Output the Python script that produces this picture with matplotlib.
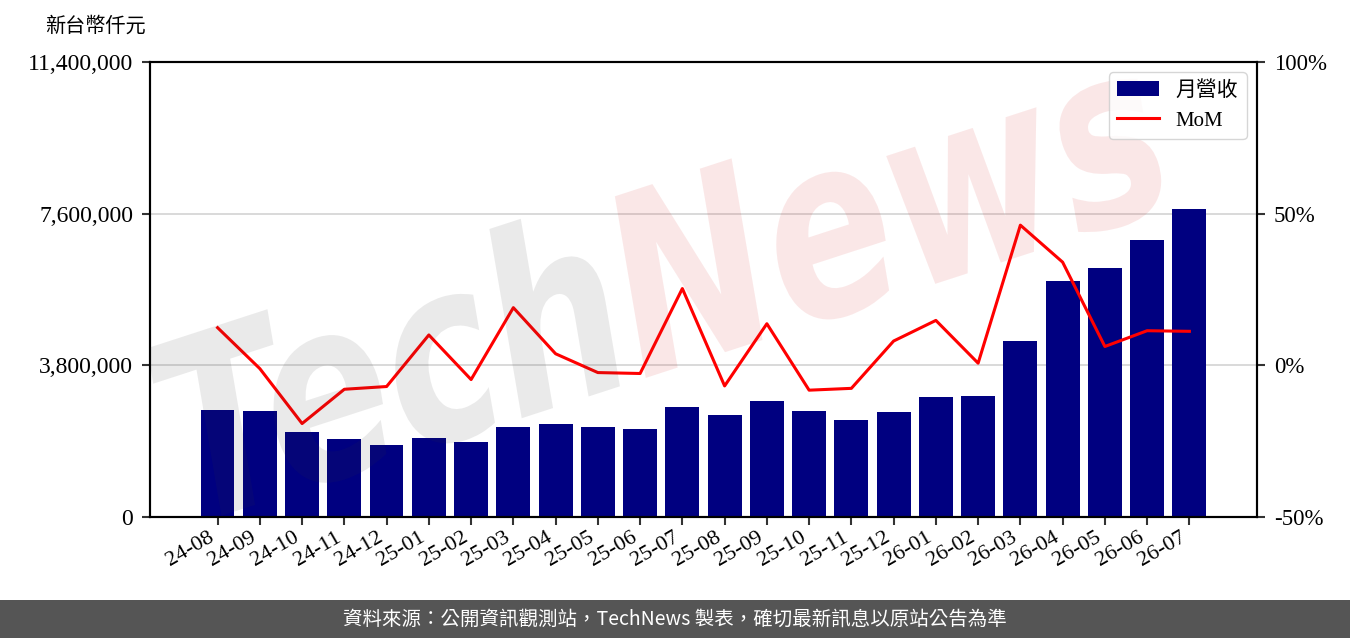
import numpy as np
import matplotlib
matplotlib.use("Agg")
import matplotlib.pyplot as plt
from matplotlib.ticker import FuncFormatter
from matplotlib.textpath import TextPath
from matplotlib.patches import PathPatch, Rectangle
from matplotlib.font_manager import FontProperties
from matplotlib.transforms import Affine2D

plt.rcParams['font.family'] = ['Liberation Serif', 'Noto Sans CJK TC']

months = ['24-08', '24-09', '24-10', '24-11', '24-12', '25-01', '25-02', '25-03',
          '25-04', '25-05', '25-06', '25-07', '25-08', '25-09', '25-10', '25-11',
          '25-12', '26-01', '26-02', '26-03', '26-04', '26-05', '26-06', '26-07']
# 月營收 (新台幣仟元)
revenue = [2681000, 2655000, 2135000, 1960000, 1812000, 1985000, 1885000, 2250000,
           2332000, 2262000, 2203000, 2758000, 2560000, 2908000, 2662000, 2440000,
           2632000, 3012000, 3032000, 4415000, 5918000, 6250000, 6945000, 7725000]
# MoM (%)
mom = [12.4, -1.1, -19.2, -7.9, -7.0, 10.0, -4.7, 19.0, 3.8, -2.4, -2.7, 25.3,
       -6.8, 13.7, -8.2, -7.6, 8.0, 14.8, 0.7, 46.2, 34.0, 6.2, 11.4, 11.2]

left_ticks = [0, 3800000, 7600000, 11400000]
right_ticks = [-50, 0, 50, 100]

fig = plt.figure(figsize=(13.5, 6.38), dpi=100)
ax = fig.add_axes([0.1111, 0.1897, 0.82, 0.7132])
ax2 = ax.twinx()

x = np.arange(len(months))
bars = ax.bar(x, revenue, width=0.8, color='#000080', zorder=2)
ax.set_xlim(-1.6, len(months) - 1 + 1.6)
ax.set_ylim(left_ticks[0], left_ticks[-1])
ax.set_yticks(left_ticks)
ax.yaxis.set_major_formatter(FuncFormatter(lambda v, p: f'{int(v):,}'))
ax.set_xticks(x)
ax.set_xticklabels(months, rotation=30, ha='right')
ax.grid(axis='y', color='#d9d9d9', lw=1.4)
ax.set_axisbelow(True)

line, = ax2.plot(x, mom, color='red', lw=2.2, zorder=3)
ax2.set_ylim(right_ticks[0], right_ticks[-1])
ax2.set_yticks(right_ticks)
ax2.yaxis.set_major_formatter(FuncFormatter(lambda v, p: f'{int(v)}%'))

for a in (ax, ax2):
    for s in a.spines.values():
        s.set_linewidth(1.5)
ax.tick_params(axis='y', length=6, width=1.5, labelsize=17, pad=6, color='#333333')
ax2.tick_params(axis='y', length=6, width=1.5, labelsize=16.5, pad=6, color='#333333')
ax.tick_params(axis='x', length=6, width=1.5, labelsize=16, pad=2, color='#333333')

leg = ax2.legend([bars, line], ['月營收', 'MoM'], loc='upper right', fontsize=15,
                 edgecolor='#cccccc', fancybox=True, handlelength=2.0)
leg.set_zorder(6)

# watermark
fp = FontProperties(family='DejaVu Sans', weight='bold', style='italic')
p1 = TextPath((0, 0), 'Tech', size=1, prop=fp)
w1 = p1.get_extents().x1 + 0.05
p2 = TextPath((w1, 0), 'News', size=1, prop=fp)
tr = Affine2D().scale(188, 250).rotate_deg(18).translate(190, 112)
for p, c in ((p1, '#373737'), (p2, '#d71919')):
    ax2.add_artist(PathPatch(p, transform=tr, facecolor=c, edgecolor='none',
                             alpha=0.1, zorder=4))

fig.text(0.0704, 0.958, '新台幣仟元', ha='center', va='center', fontsize=14.5)

fig.add_artist(Rectangle((0, 0), 1, 0.0596, transform=fig.transFigure,
                         facecolor='#555555', edgecolor='none'))
fig.text(0.5, 0.0298, '資料來源：公開資訊觀測站，TechNews 製表，確切最新訊息以原站公告為準',
         ha='center', va='center', color='white', fontsize=14,
         family=['Noto Sans CJK TC', 'DejaVu Sans'])

fig.savefig('out.png', dpi=100)
